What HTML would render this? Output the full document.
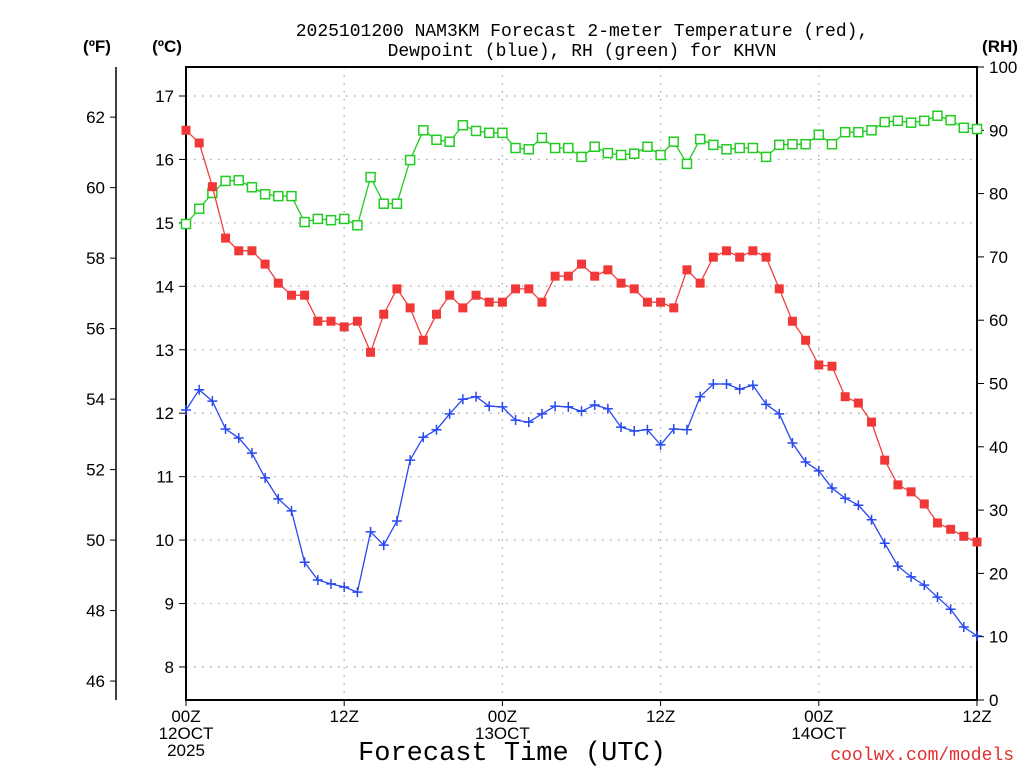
<!DOCTYPE html>
<html><head><meta charset="utf-8">
<style>
html,body{margin:0;padding:0;background:#fff;}
svg{display:block;font-family:"Liberation Sans","DejaVu Sans",sans-serif;}
.mono{font-family:"Liberation Mono","DejaVu Sans Mono",monospace;}
</style></head>
<body>
<svg id="chart" width="1024" height="768" viewBox="0 0 1024 768" xmlns="http://www.w3.org/2000/svg">
<rect width="1024" height="768" fill="#fff"/>
<text class="mono" x="582" y="36" font-size="18" text-anchor="middle">2025101200 NAM3KM Forecast 2-meter Temperature (red),</text>
<text class="mono" x="582" y="56" font-size="18" text-anchor="middle">Dewpoint (blue), RH (green) for KHVN</text>
<text x="97" y="52" font-size="17" font-weight="bold" text-anchor="middle">(ºF)</text>
<text x="167" y="52" font-size="17" font-weight="bold" text-anchor="middle">(ºC)</text>
<text x="1000" y="52" font-size="17" font-weight="bold" text-anchor="middle">(RH)</text>
<text class="mono" x="512" y="760" font-size="27" text-anchor="middle">Forecast Time (UTC)</text>
<text class="mono" x="1014" y="760" font-size="18" fill="#e03030" text-anchor="end">coolwx.com/models</text>
<g id="grid"></g>
<g id="axes"></g>
<g id="series"></g>
</svg>
<script>
const tempC = [16.46,16.26,15.57,14.76,14.56,14.56,14.35,14.05,13.86,13.86,13.45,13.45,13.36,13.45,12.96,13.56,13.96,13.66,13.15,13.56,13.86,13.66,13.86,13.75,13.75,13.96,13.96,13.75,14.16,14.16,14.35,14.16,14.26,14.05,13.96,13.75,13.75,13.66,14.26,14.05,14.46,14.56,14.46,14.56,14.46,13.96,13.45,13.15,12.76,12.74,12.26,12.16,11.86,11.26,10.87,10.76,10.57,10.27,10.17,10.06,9.97];
const dewC = [12.05,12.37,12.19,11.75,11.61,11.37,10.98,10.65,10.46,9.65,9.37,9.31,9.26,9.18,10.13,9.92,10.30,11.26,11.62,11.74,11.99,12.22,12.26,12.11,12.10,11.89,11.86,11.99,12.11,12.10,12.03,12.13,12.07,11.78,11.72,11.74,11.50,11.75,11.74,12.26,12.46,12.46,12.38,12.44,12.14,11.99,11.53,11.23,11.09,10.82,10.66,10.55,10.32,9.95,9.59,9.42,9.29,9.10,8.91,8.63,8.49];
const rh = [75.2,77.6,80.1,82.0,82.1,81.0,79.9,79.6,79.6,75.5,76.0,75.8,76.0,75.0,82.6,78.4,78.4,85.3,90.0,88.5,88.2,90.8,89.9,89.6,89.6,87.2,87.0,88.8,87.2,87.2,85.8,87.4,86.4,86.1,86.3,87.4,86.1,88.2,84.7,88.6,87.7,87.0,87.2,87.2,85.8,87.7,87.8,87.8,89.3,87.8,89.7,89.7,90.0,91.3,91.5,91.2,91.5,92.3,91.6,90.4,90.2];
const celsiusTicks = [8,9,10,11,12,13,14,15,16,17];
const fahrenheitTicks = [46,48,50,52,54,56,58,60,62];
const rhTicks = [0,10,20,30,40,50,60,70,80,90,100];
const xTickHours = [0,12,24,36,48,60];
const xTickLabels = [["00Z","12OCT","2025"],["12Z"],["00Z","13OCT"],["12Z"],["00Z","14OCT"],["12Z"]];

const L=186,R=977,T=67,B=700;
const xS = h => L + (R-L)*h/60;
const yC = c => 96 + (17-c)*63.44;
const yF = f => yC((f-32)/1.8);
const yRH = v => B - (B-T)*v/100;
const NS="http://www.w3.org/2000/svg";
function mk(parent, tag, attrs){const e=document.createElementNS(NS,tag);for(const k in attrs)e.setAttribute(k,attrs[k]);parent.appendChild(e);return e;}
const grid=document.getElementById('grid'), axes=document.getElementById('axes'), series=document.getElementById('series');

celsiusTicks.forEach(c=>{
  const y=yC(c);
  const g=mk(grid,'line',{x1:L,x2:R,y1:y,y2:y,stroke:'#aaa','stroke-width':1.3,'stroke-dasharray':'1.5 6.5'});
  
  
  mk(axes,'line',{x1:L-7,x2:L,y1:y,y2:y,stroke:'#000','stroke-width':1});
  const t=mk(axes,'text',{x:L-12,y:y+6,'font-size':17,'text-anchor':'end'});
  t.textContent=c;
  
  
});
xTickHours.forEach((h,i)=>{
  const x=xS(h);
  if(h>0&&h<60){
    const g=mk(grid,'line',{x1:x,x2:x,y1:T,y2:B,stroke:'#aaa','stroke-width':1.3,'stroke-dasharray':'1.5 6.5'});
    
    
  }
  mk(axes,'line',{x1:x,x2:x,y1:B,y2:B+6,stroke:'#000','stroke-width':1});
  xTickLabels[i].forEach((s,j)=>{
    const t=mk(axes,'text',{x:x,y:722+j*17,'font-size':17,'text-anchor':'middle'});
    t.textContent=s;
    
    
  });
});
mk(axes,'rect',{x:L,y:T,width:R-L,height:B-T,fill:'none',stroke:'#000','stroke-width':2});
mk(axes,'line',{x1:116,x2:116,y1:T,y2:B,stroke:'#000','stroke-width':1.5});
fahrenheitTicks.forEach(f=>{
  const y=yF(f);
  mk(axes,'line',{x1:110,x2:116,y1:y,y2:y,stroke:'#000','stroke-width':1});
  const t=mk(axes,'text',{x:105,y:y+6,'font-size':17,'text-anchor':'end'});
  t.textContent=f;
  
  
});
rhTicks.forEach(v=>{
  const y=yRH(v);
  mk(axes,'line',{x1:R,x2:R+7,y1:y,y2:y,stroke:'#000','stroke-width':1});
  const t=mk(axes,'text',{x:989,y:y+6,'font-size':17,'text-anchor':'start'});
  t.textContent=v;
  
  
});

function line(vals, yf, color, name){
  const pts=vals.map((v,i)=>xS(i).toFixed(1)+','+yf(v).toFixed(1)).join(' ');
  const p=mk(series,'polyline',{points:pts,fill:'none',stroke:color,'stroke-width':1.3});
  
  
}
line(rh,yRH,'#22cc22','rh-line');
rh.forEach((v,i)=>{
  const m=mk(series,'rect',{x:xS(i)-4.5,y:yRH(v)-4.5,width:9,height:9,fill:'#fff',stroke:'#22cc22','stroke-width':1.5});
  
  
});
line(tempC,yC,'#f04040','temperature-line');
tempC.forEach((v,i)=>{
  const m=mk(series,'rect',{x:xS(i)-4.5,y:yC(v)-4.5,width:9,height:9,fill:'#f03838'});
  
  
});
line(dewC,yC,'#2848f0','dewpoint-line');
dewC.forEach((v,i)=>{
  const x=xS(i),y=yC(v);
  const m=mk(series,'path',{d:`M${x-5},${y}H${x+5}M${x},${y-5}V${y+5}`,stroke:'#2848f0','stroke-width':1.5});
  
  
});
</script>
</body></html>
